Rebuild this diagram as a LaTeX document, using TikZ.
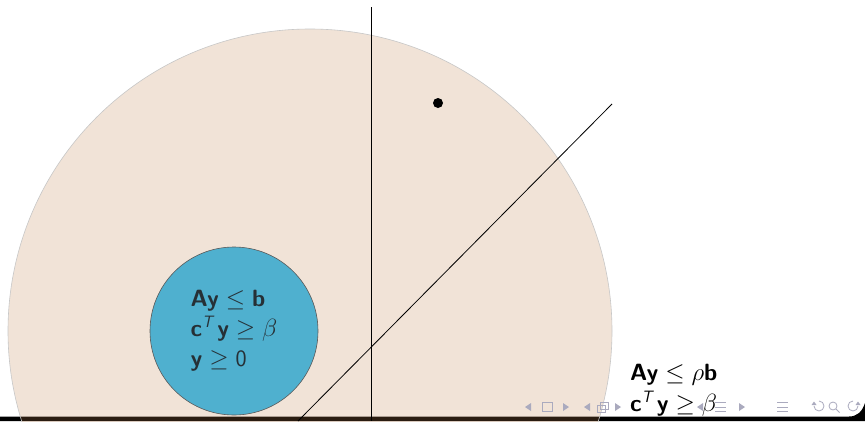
\documentclass[tikz,border=0pt]{standalone}
\usepackage{amsmath}
\definecolor{beigefill}{RGB}{194,130,74}
\definecolor{ballblue}{RGB}{79,176,207}
\definecolor{intext}{RGB}{38,48,54}
\definecolor{navgray}{RGB}{170,170,190}
\newcommand{\sfb}[1]{\textsf{\bfseries #1}}
\newcommand{\supT}{\textsf{\itshape T}}
\tikzset{
  bigfont/.style={font=\fontsize{23.5}{30}\selectfont},
  navsym/.style={navgray, line width=0.8pt},
  thinline/.style={line width=0.8pt, black}
}
\begin{document}
\begin{tikzpicture}[x=1pt,y=-1pt]
\useasboundingbox (0,0) rectangle (865,421);
\clip (0,0) rectangle (865,421);
\fill[white] (0,0) rectangle (865,421);
% bottom bar
\fill[black] (0,416.5) -- (849,416.5) .. controls (857,416.5) and (862,412) .. (865,403) -- (865,421) -- (0,421) -- cycle;
% big circle
\node[circle, minimum size=604pt, inner sep=0pt, fill=beigefill, fill opacity=0.22, draw=black!22, line width=0.6pt] (big) at (310,331) {};
% navigation symbols
\begin{scope}[navsym]
  \fill (531,403) -- (525,407) -- (531,411) -- cycle;
  \draw (542,402.5) rectangle (552,411.5);
  \fill (563,403) -- (569,407) -- (563,411) -- cycle;
  \fill (590,403) -- (584,407) -- (590,411) -- cycle;
  \draw (597,405) rectangle (605,412);
  \draw (600,402) rectangle (608,409);
  \fill (615,403) -- (621,407) -- (615,411) -- cycle;
  \fill (703,403) -- (697,407) -- (703,411) -- cycle;
  \draw (715,402.5) -- (726,402.5) (715,407) -- (726,407) (715,411.5) -- (726,411.5);
  \fill (739,403) -- (745,407) -- (739,411) -- cycle;
  \draw (777,402.5) -- (788,402.5) (777,407) -- (788,407) (777,411.5) -- (788,411.5);
  \draw (814,406) arc[start angle=180, end angle=-90, radius=5];
  \fill (811.5,405) -- (816.5,405) -- (814,401.5) -- cycle;
  \draw (833,406) circle[radius=4];
  \draw (836,409) -- (839.5,412.5);
  \draw (858,406) arc[start angle=0, end angle=270, radius=5];
  \fill (855.5,405) -- (860.5,405) -- (858,401.5) -- cycle;
\end{scope}
% blue circle with constraints
\node[circle, minimum size=168pt, inner sep=0pt, fill=ballblue, draw=black!65, line width=0.6pt,
      text=intext, align=left, bigfont] (ball) at (234,331)
  {$\sfb{Ay}\le\sfb{b}$\\
   $\sfb{c}^{\supT}\,\sfb{y}\ge\beta$\\
   $\sfb{y}\ge\textsf{0}$};
% lines
\coordinate (vtop) at (371,7);
\coordinate (vbot) at (371,421);
\coordinate (dbot) at (298,421);
\coordinate (dtop) at (612,104);
\draw[thinline] (vtop) -- (vbot);
\draw[thinline] (dbot) -- (dtop);
% point
\node[circle, fill=black, inner sep=0pt, minimum size=10pt] (pt) at (438,103) {};
% relaxed constraints
\node[anchor=north west, inner sep=0pt, align=left, font=\fontsize{23.5}{31}\selectfont] (relax) at (630,364)
  {$\sfb{Ay}\le\rho\sfb{b}$\\
   $\sfb{c}^{\supT}\,\sfb{y}\ge\beta$};
\end{tikzpicture}
\end{document}
